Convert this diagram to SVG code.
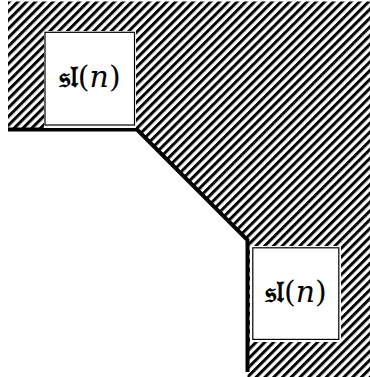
<svg xmlns="http://www.w3.org/2000/svg" width="370" height="377" viewBox="0 0 370 377">
<defs>
<pattern id="hatch" patternUnits="userSpaceOnUse" width="6.2" height="6.2" patternTransform="rotate(-45)">
<rect x="0" y="0" width="6.2" height="3" fill="#000"/>
</pattern>
<style>
.box{fill:#fff;stroke:#000;stroke-width:1.2}
.lbl{font-family:"DejaVu Serif","Liberation Serif",serif;font-size:30px;fill:#000;text-anchor:middle}
.fr{font-weight:bold}
.it{font-style:italic}
</style>
</defs>
<g id="region">
<path d="M8,1.5 H370 V377 H247.5 V240 L137,129.5 H8 Z" fill="url(#hatch)"/>
</g>
<g id="connectors">
<path d="M8,129.5 H137 L247.5,240 V372" fill="none" stroke="#000" stroke-width="4"/>
</g>
<g id="node1">
<rect x="44" y="31" width="92" height="97" fill="#fff"/>
<rect class="box" x="45" y="32.3" width="89.5" height="92.7"/>
<text class="lbl" x="89.75" y="87"><tspan class="fr">𝔰𝔩</tspan>(<tspan class="it">n</tspan>)</text>
</g>
<g id="node2">
<rect x="250" y="246" width="91" height="96" fill="#fff"/>
<rect class="box" x="252.8" y="247.8" width="86" height="91.6"/>
<text class="lbl" x="295.8" y="302"><tspan class="fr">𝔰𝔩</tspan>(<tspan class="it">n</tspan>)</text>
</g>
</svg>
